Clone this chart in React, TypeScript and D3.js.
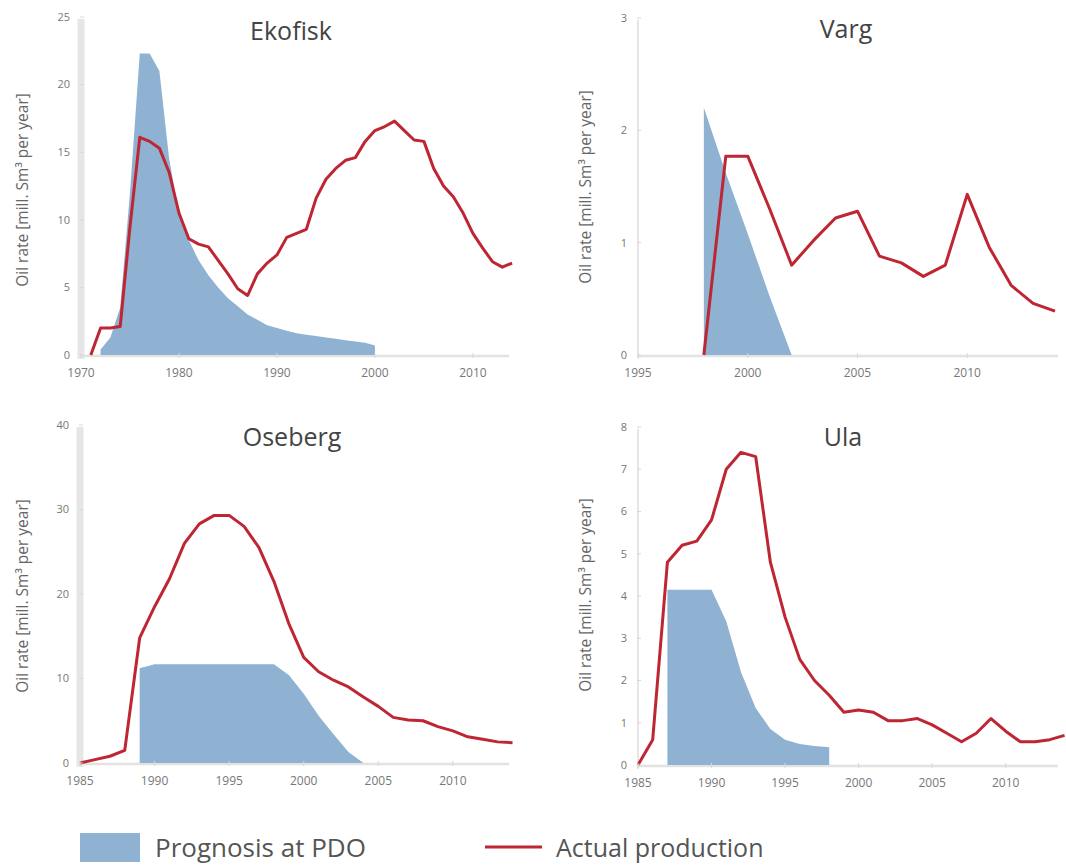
import React from "react";
import * as d3 from "d3";

// ---------- data (mill. Sm3 per year) ----------
const ekofiskActualStart = 1971;
const ekofiskActual = [
  0, 2.0, 2.0, 2.1, 9.5, 16.1, 15.8, 15.3, 13.5, 10.5, 8.6, 8.2, 8.0, 7.0, 6.0,
  4.9, 4.4, 6.0, 6.8, 7.4, 8.7, 9.0, 9.3, 11.6, 13.0, 13.8, 14.4, 14.6, 15.8,
  16.6, 16.9, 17.3, 16.6, 15.9, 15.8, 13.8, 12.5, 11.7, 10.5, 9.0, 7.9, 6.9, 6.5, 6.8,
];
const ekofiskProgStart = 1972;
const ekofiskProg = [
  0.4, 1.3, 3.5, 12.0, 22.3, 22.3, 21.0, 14.5, 10.5, 8.5, 7.0, 5.9, 5.0, 4.2, 3.6,
  3.0, 2.6, 2.2, 2.0, 1.8, 1.6, 1.5, 1.4, 1.3, 1.2, 1.1, 1.0, 0.9, 0.7,
];

const vargActualStart = 1998;
const vargActual = [0, 1.77, 1.77, 1.3, 0.8, 1.02, 1.22, 1.28, 0.88, 0.82, 0.7, 0.8, 1.43, 0.96, 0.62, 0.46, 0.39];
const vargProgStart = 1998;
const vargProg = [2.2, 1.62, 1.08, 0.52, 0];

const osebergActualStart = 1985;
const osebergActual = [
  0, 0.4, 0.8, 1.5, 14.8, 18.5, 21.8, 26.0, 28.3, 29.3, 29.3, 28.0, 25.5, 21.5, 16.5,
  12.5, 10.8, 9.8, 9.0, 7.8, 6.7, 5.4, 5.1, 5.0, 4.3, 3.8, 3.1, 2.8, 2.5, 2.4,
];
const osebergProgStart = 1989;
const osebergProg = [11.2, 11.7, 11.7, 11.7, 11.7, 11.7, 11.7, 11.7, 11.7, 11.7, 10.4, 8.2, 5.6, 3.4, 1.3, 0];

const ulaActualStart = 1985;
const ulaActual = [
  0, 0.6, 4.8, 5.2, 5.3, 5.8, 7.0, 7.4, 7.3, 4.8, 3.5, 2.5, 2.0, 1.65, 1.25, 1.3,
  1.25, 1.05, 1.05, 1.1, 0.95, 0.75, 0.55, 0.75, 1.1, 0.8, 0.55, 0.55, 0.6, 0.7,
];
const ulaProgStart = 1987;
const ulaProg = [4.15, 4.15, 4.15, 4.15, 3.4, 2.2, 1.35, 0.85, 0.6, 0.5, 0.45, 0.42];

const ekofiskXTicks = [1970, 1980, 1990, 2000, 2010];
const ekofiskYTicks = [0, 5, 10, 15, 20, 25];
const vargXTicks = [1995, 2000, 2005, 2010];
const vargYTicks = [0, 1, 2, 3];
const osebergXTicks = [1985, 1990, 1995, 2000, 2005, 2010];
const osebergYTicks = [0, 10, 20, 30, 40];
const ulaXTicks = [1985, 1990, 1995, 2000, 2005, 2010];
const ulaYTicks = [0, 1, 2, 3, 4, 5, 6, 7, 8];

const yLabel = "Oil rate [mill. Sm³ per year]";
const legendItems = ["Prognosis at PDO", "Actual production"];

const BLUE = "#8fb1d2";
const RED = "#bd2632";
const FONT = "'Open Sans', 'Noto Sans', sans-serif";

type PanelProps = {
  title: string;
  actualStart: number;
  actual: number[];
  progStart: number;
  prog: number[];
  xDomain: [number, number];
  xRange: [number, number];
  yDomain: [number, number];
  yRange: [number, number];
  xTicks: number[];
  yTicks: number[];
  titleX: number;
  titleY: number;
  labelX: number;
  labelY: number;
  spineW: number;
};

function Panel(p: PanelProps) {
  const x = d3.scaleLinear().domain(p.xDomain).range(p.xRange);
  const y = d3.scaleLinear().domain(p.yDomain).range(p.yRange);
  const act = p.actual.map((v, i) => [p.actualStart + i, v] as [number, number]);
  const prg = p.prog.map((v, i) => [p.progStart + i, v] as [number, number]);
  const area = d3
    .area<[number, number]>()
    .x((d) => x(d[0]))
    .y0(y(0))
    .y1((d) => y(d[1]));
  const line = d3
    .line<[number, number]>()
    .x((d) => x(d[0]))
    .y((d) => y(d[1]));
  const x0 = p.xRange[0];
  const x1 = p.xRange[1];
  const y0 = y(0);
  return (
    <g>
      <line x1={x0} x2={x0} y1={p.yRange[1] + 2} y2={y0 + 4} stroke="#e6e6e6" strokeWidth={p.spineW} />
      <line x1={x0} x2={x1 - 8} y1={y0 + 1} y2={y0 + 1} stroke="#e2e2e2" strokeWidth={2.5} />
      <path d={area(prg) || ""} fill={BLUE} />
      <path d={line(act) || ""} fill="none" stroke={RED} strokeWidth={3} strokeLinejoin="round" />
      {p.yTicks.map((t) => (
        <g key={"y" + t}>
          <line x1={x0 - 1} x2={x0 + 3} y1={y(t)} y2={y(t)} stroke="#d8d8d8" strokeWidth={1} />
          <text x={x0 - 11} y={y(t)} dy="0.35em" textAnchor="end" fontSize={11} fill="#777" fontFamily={FONT}>
            {t}
          </text>
        </g>
      ))}
      {p.xTicks.map((t) => (
        <g key={"x" + t}>
          <line x1={x(t)} x2={x(t)} y1={y0 - 2} y2={y0 + 3} stroke="#d8d8d8" strokeWidth={1} />
          <text x={x(t)} y={y0 + 18} dy="0.35em" textAnchor="middle" fontSize={12} fill="#777" fontFamily={FONT}>
            {t}
          </text>
        </g>
      ))}
      <text x={p.titleX} y={p.titleY} textAnchor="middle" fontSize={25} fill="#444" fontFamily={FONT}>
        {p.title}
      </text>
      <text
        transform={`translate(${p.labelX},${p.labelY}) rotate(-90)`}
        textAnchor="middle"
        dy="0.35em"
        fontSize={15.5}
        fill="#666"
        fontFamily={FONT}
      >
        {yLabel}
      </text>
    </g>
  );
}

export default function App() {
  return (
    <svg width={1066} height={867} style={{ position: "absolute", left: 0, top: 0, background: "#fff" }}>
      <rect x={0} y={0} width={1066} height={867} fill="#fff" />
      <Panel
        title="Ekofisk"
        actualStart={ekofiskActualStart}
        actual={ekofiskActual}
        progStart={ekofiskProgStart}
        prog={ekofiskProg}
        xDomain={[1970, 2014.5]}
        xRange={[81, 517]}
        yDomain={[0, 25]}
        yRange={[355, 17]}
        xTicks={ekofiskXTicks}
        yTicks={ekofiskYTicks}
        titleX={291}
        titleY={40}
        labelX={23}
        labelY={190}
        spineW={7}
      />
      <Panel
        title="Varg"
        actualStart={vargActualStart}
        actual={vargActual}
        progStart={vargProgStart}
        prog={vargProg}
        xDomain={[1995, 2014.5]}
        xRange={[638, 1066]}
        yDomain={[0, 3]}
        yRange={[355, 18]}
        xTicks={vargXTicks}
        yTicks={vargYTicks}
        titleX={846}
        titleY={38}
        labelX={586}
        labelY={187}
        spineW={2}
      />
      <Panel
        title="Oseberg"
        actualStart={osebergActualStart}
        actual={osebergActual}
        progStart={osebergProgStart}
        prog={osebergProg}
        xDomain={[1985, 2014.3]}
        xRange={[80, 517]}
        yDomain={[0, 40]}
        yRange={[763, 425]}
        xTicks={osebergXTicks}
        yTicks={osebergYTicks}
        titleX={292}
        titleY={446}
        labelX={23}
        labelY={596}
        spineW={7}
      />
      <Panel
        title="Ula"
        actualStart={ulaActualStart}
        actual={ulaActual}
        progStart={ulaProgStart}
        prog={ulaProg}
        xDomain={[1985, 2014.1]}
        xRange={[638, 1066]}
        yDomain={[0, 8]}
        yRange={[765, 427]}
        xTicks={ulaXTicks}
        yTicks={ulaYTicks}
        titleX={843}
        titleY={446}
        labelX={586}
        labelY={595}
        spineW={2}
      />
      <rect x={80} y={833} width={60} height={29} fill={BLUE} />
      <text x={155} y={848} dy="0.35em" fontSize={26} fill="#555" fontFamily={FONT}>
        {legendItems[0]}
      </text>
      <line x1={485} x2={542} y1={847} y2={847} stroke={RED} strokeWidth={3} />
      <text x={556} y={848} dy="0.35em" fontSize={25} fill="#555" fontFamily={FONT}>
        {legendItems[1]}
      </text>
    </svg>
  );
}
